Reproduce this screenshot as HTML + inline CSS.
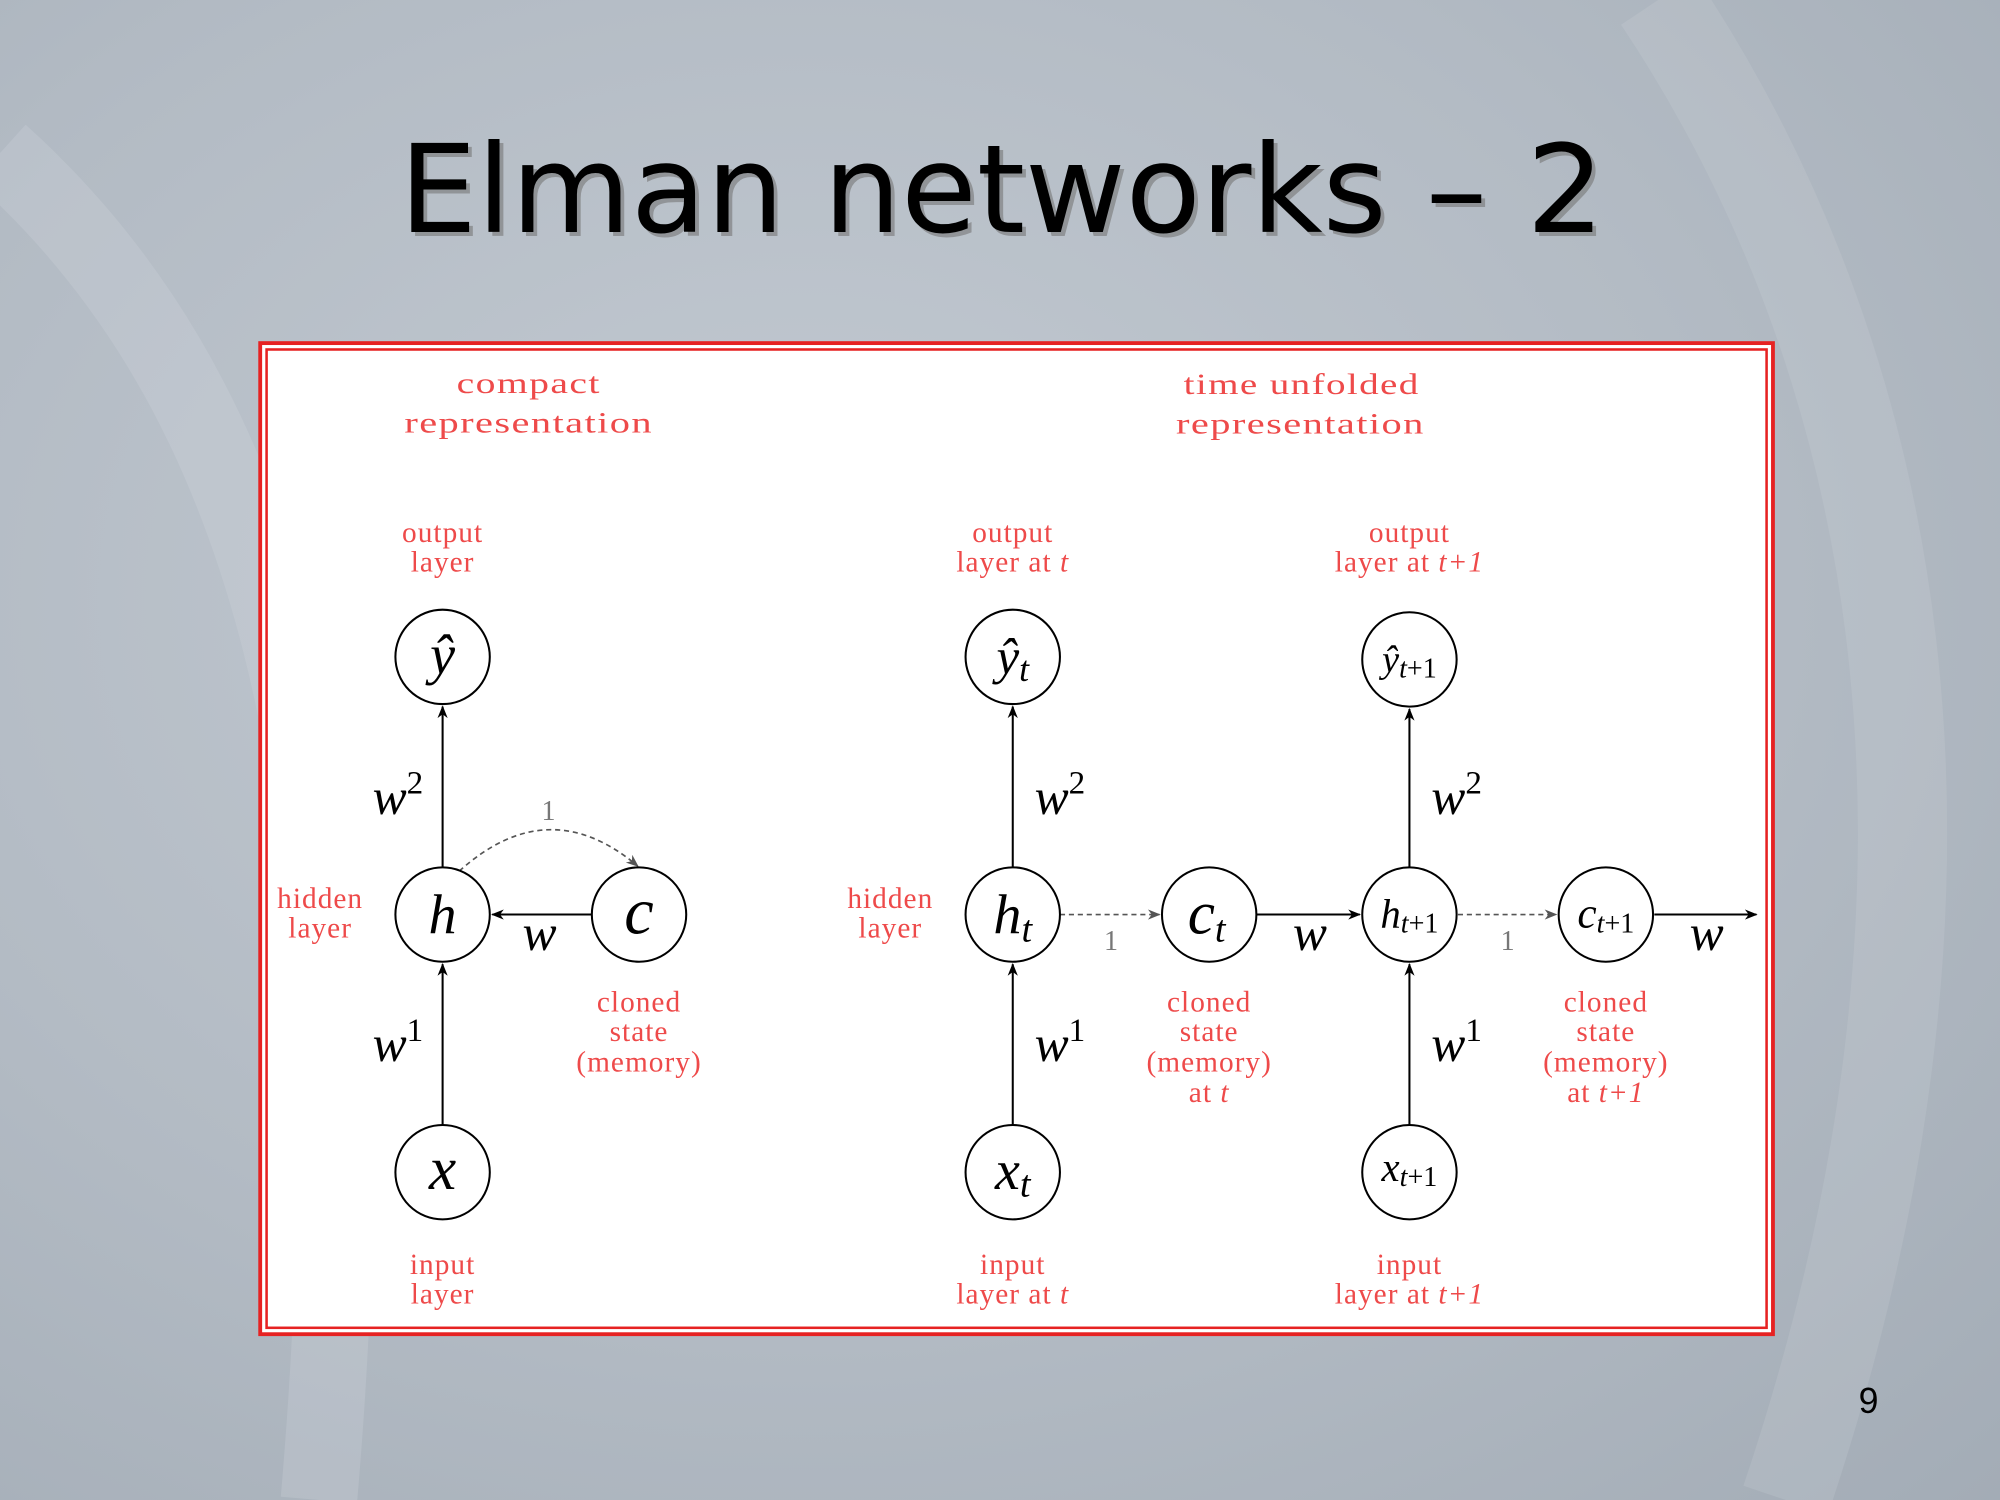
<!DOCTYPE html>
<html><head><meta charset="utf-8"><style>
html,body{margin:0;padding:0;width:2000px;height:1500px;overflow:hidden}
body{background:radial-gradient(ellipse at 40% 40%,#c3cad2 0%,#b3bbc4 55%,#a3acb6 100%)}
svg{display:block}
.r{fill:#ee4a4a;font-family:"Liberation Serif",serif;font-size:23px;letter-spacing:0.8px;text-anchor:middle}
.m{font-family:"Liberation Serif",serif;font-style:italic;fill:#000;text-anchor:middle}
.n{fill:#fff;stroke:#000;stroke-width:1.6}
.l{stroke:#000;stroke-width:1.6;fill:none}
.d{stroke:#555;stroke-width:1.3;fill:none;stroke-dasharray:4 3}
</style></head><body>
<svg width="2000" height="1500" viewBox="0 0 1568 1176">
<defs>
<marker id="a" markerWidth="10" markerHeight="8" refX="9" refY="4" orient="auto" markerUnits="userSpaceOnUse"><path d="M0,0 L10,4 L0,8 L3,4 Z" fill="#000"/></marker>
<marker id="g" markerWidth="10" markerHeight="8" refX="9" refY="4" orient="auto" markerUnits="userSpaceOnUse"><path d="M0,0 L10,4 L0,8 L3,4 Z" fill="#555"/></marker>
</defs>
<path d="M0,120 C200,300 300,600 250,1176" stroke="#d3d8de" stroke-width="60" fill="none" opacity="0.25"/>
<path d="M1300,0 C1500,300 1560,700 1400,1176" stroke="#d3d8de" stroke-width="70" fill="none" opacity="0.2"/>
<text x="313" y="182" textLength="945" lengthAdjust="spacingAndGlyphs" font-family="DejaVu Sans,sans-serif" font-size="96" fill="#777" opacity="0.6" dx="3" dy="3">Elman networks – 2</text>
<text x="313" y="182" textLength="945" lengthAdjust="spacingAndGlyphs" font-family="DejaVu Sans,sans-serif" font-size="96" fill="#000">Elman networks – 2</text>
<rect x="204" y="269" width="1186" height="777" fill="#fff" stroke="#e62222" stroke-width="3"/>
<rect x="209" y="274" width="1176" height="767" fill="none" stroke="#e62222" stroke-width="2"/>
<text class="r" font-size="28" x="358" y="308" textLength="113" lengthAdjust="spacingAndGlyphs" style="text-anchor:start">compact</text>
<text class="r" font-size="28" x="317" y="339" textLength="195" lengthAdjust="spacingAndGlyphs" style="text-anchor:start">representation</text>
<text class="r" font-size="28" x="928" y="309" textLength="185" lengthAdjust="spacingAndGlyphs" style="text-anchor:start">time unfolded</text>
<text class="r" font-size="28" x="922" y="340" textLength="195" lengthAdjust="spacingAndGlyphs" style="text-anchor:start">representation</text>
<text class="r" x="347" y="425">output</text><text class="r" x="347" y="448">layer</text>
<text class="r" x="794" y="425">output</text><text class="r" x="794" y="448">layer at <tspan font-style="italic">t</tspan></text>
<text class="r" x="1105" y="425">output</text><text class="r" x="1105" y="448">layer at <tspan font-style="italic">t+1</tspan></text>
<text class="r" x="251" y="712">hidden</text><text class="r" x="251" y="735">layer</text>
<text class="r" x="698" y="712">hidden</text><text class="r" x="698" y="735">layer</text>
<text class="r" x="501" y="793">cloned</text><text class="r" x="501" y="816">state</text><text class="r" x="501" y="840">(memory)</text>
<text class="r" x="948" y="793">cloned</text><text class="r" x="948" y="816">state</text><text class="r" x="948" y="840">(memory)</text><text class="r" x="948" y="864">at <tspan font-style="italic">t</tspan></text>
<text class="r" x="1259" y="793">cloned</text><text class="r" x="1259" y="816">state</text><text class="r" x="1259" y="840">(memory)</text><text class="r" x="1259" y="864">at <tspan font-style="italic">t+1</tspan></text>
<text class="r" x="347" y="999">input</text><text class="r" x="347" y="1022">layer</text>
<text class="r" x="794" y="999">input</text><text class="r" x="794" y="1022">layer at <tspan font-style="italic">t</tspan></text>
<text class="r" x="1105" y="999">input</text><text class="r" x="1105" y="1022">layer at <tspan font-style="italic">t+1</tspan></text>
<line class="l" x1="347" y1="882" x2="347" y2="756" marker-end="url(#a)"/>
<line class="l" x1="347" y1="680" x2="347" y2="554" marker-end="url(#a)"/>
<line class="l" x1="464" y1="717" x2="386" y2="717" marker-end="url(#a)"/>
<path class="d" d="M360,683 Q430,620 500,679" marker-end="url(#g)"/>
<text x="430" y="643" font-family="Liberation Serif,serif" font-size="22" fill="#777" text-anchor="middle">1</text>
<line class="l" x1="794" y1="882" x2="794" y2="756" marker-end="url(#a)"/>
<line class="l" x1="794" y1="680" x2="794" y2="554" marker-end="url(#a)"/>
<line class="d" x1="831" y1="717" x2="909" y2="717" marker-end="url(#g)"/>
<line class="l" x1="985" y1="717" x2="1066" y2="717" marker-end="url(#a)"/>
<line class="l" x1="1105" y1="882" x2="1105" y2="756" marker-end="url(#a)"/>
<line class="l" x1="1105" y1="680" x2="1105" y2="556" marker-end="url(#a)"/>
<line class="d" x1="1143" y1="717" x2="1220" y2="717" marker-end="url(#g)"/>
<line class="l" x1="1297" y1="717" x2="1377" y2="717" marker-end="url(#a)"/>
<text x="871" y="745" font-family="Liberation Serif,serif" font-size="22" fill="#777" text-anchor="middle">1</text>
<text x="1182" y="745" font-family="Liberation Serif,serif" font-size="22" fill="#777" text-anchor="middle">1</text>
<text class="m" font-size="40" x="312" y="638">w<tspan font-style="normal" font-size="26" dy="-16">2</tspan></text>
<text class="m" font-size="40" x="312" y="832">w<tspan font-style="normal" font-size="26" dy="-16">1</tspan></text>
<text class="m" font-size="40" x="423" y="745">w</text>
<text class="m" font-size="40" x="831" y="638">w<tspan font-style="normal" font-size="26" dy="-16">2</tspan></text>
<text class="m" font-size="40" x="831" y="832">w<tspan font-style="normal" font-size="26" dy="-16">1</tspan></text>
<text class="m" font-size="40" x="1027" y="745">w</text>
<text class="m" font-size="40" x="1142" y="638">w<tspan font-style="normal" font-size="26" dy="-16">2</tspan></text>
<text class="m" font-size="40" x="1142" y="832">w<tspan font-style="normal" font-size="26" dy="-16">1</tspan></text>
<text class="m" font-size="40" x="1338" y="745">w</text>
<circle class="n" cx="347" cy="515" r="37"/><text class="m" font-size="44" x="347" y="528">ŷ</text>
<circle class="n" cx="347" cy="717" r="37"/><text class="m" font-size="44" x="347" y="732">h</text>
<circle class="n" cx="501" cy="717" r="37"/><text class="m" font-size="52" x="501" y="732">c</text>
<circle class="n" cx="347" cy="919" r="37"/><text class="m" font-size="48" x="347" y="932">x</text>
<circle class="n" cx="794" cy="515" r="37"/><text class="m" font-size="40" x="794" y="528">ŷ<tspan font-size="28" dy="6">t</tspan></text>
<circle class="n" cx="794" cy="717" r="37"/><text class="m" font-size="44" x="794" y="732">h<tspan font-size="30" dy="6">t</tspan></text>
<circle class="n" cx="948" cy="717" r="37"/><text class="m" font-size="48" x="946" y="732">c<tspan font-size="30" dy="6">t</tspan></text>
<circle class="n" cx="794" cy="919" r="37"/><text class="m" font-size="44" x="794" y="932">x<tspan font-size="30" dy="6">t</tspan></text>
<circle class="n" cx="1105" cy="517" r="37"/><text class="m" font-size="30" x="1105" y="527">ŷ<tspan font-size="22" dy="4">t<tspan font-style="normal">+1</tspan></tspan></text>
<circle class="n" cx="1105" cy="717" r="37"/><text class="m" font-size="32" x="1105" y="727">h<tspan font-size="22" dy="4">t<tspan font-style="normal">+1</tspan></tspan></text>
<circle class="n" cx="1259" cy="717" r="37"/><text class="m" font-size="34" x="1259" y="727">c<tspan font-size="22" dy="4">t<tspan font-style="normal">+1</tspan></tspan></text>
<circle class="n" cx="1105" cy="919" r="37"/><text class="m" font-size="32" x="1105" y="926">x<tspan font-size="22" dy="4">t<tspan font-style="normal">+1</tspan></tspan></text>
<text x="1465" y="1108" font-family="Liberation Sans,sans-serif" font-size="28" text-anchor="middle" fill="#000">9</text>
</svg>
</body></html>
